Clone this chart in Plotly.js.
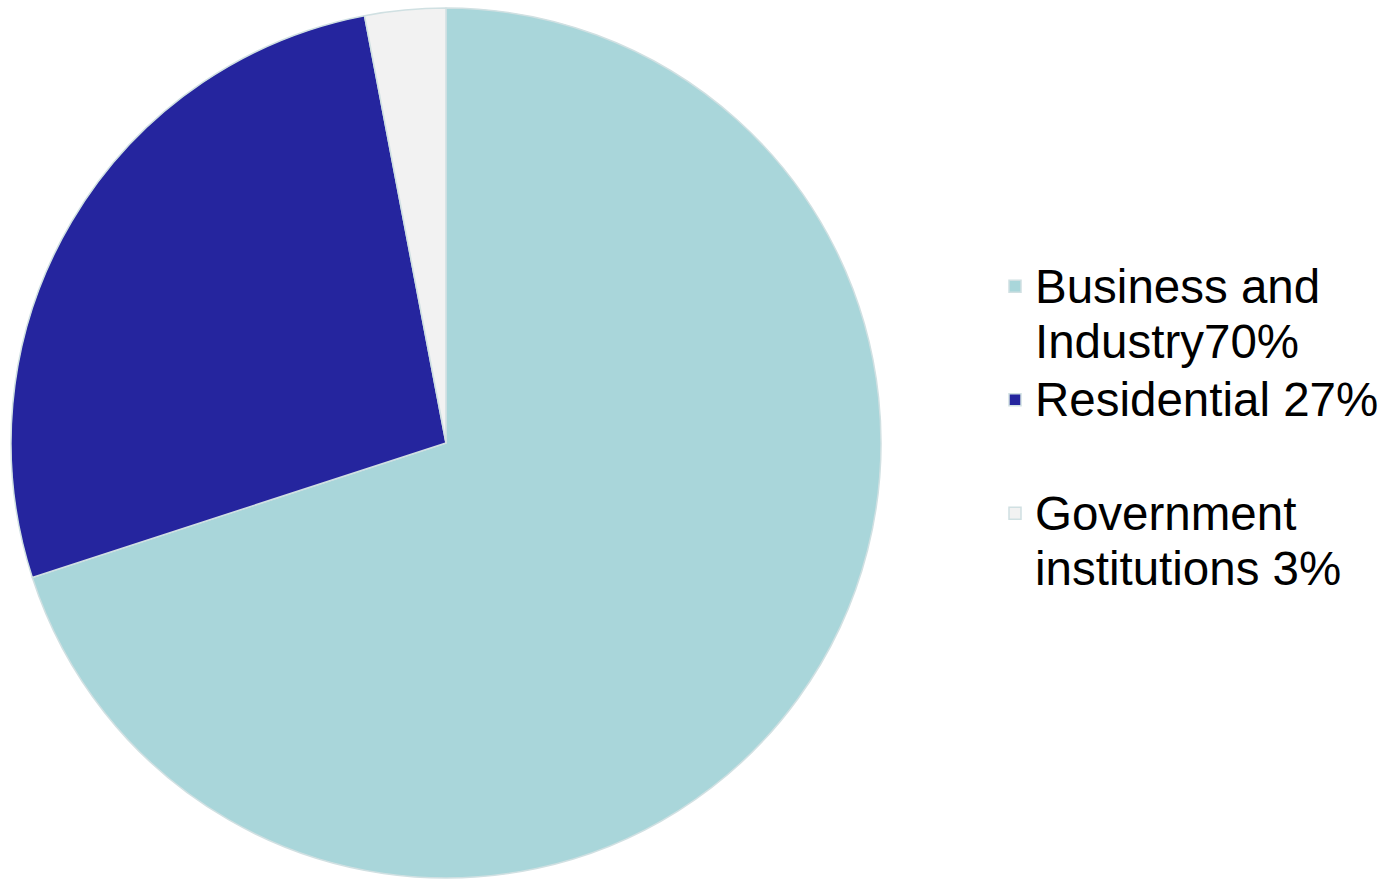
<!DOCTYPE html>
<html>
<head>
<meta charset="utf-8">
<script src="https://cdn.plot.ly/plotly-3.0.1.min.js"></script>
<style>html,body{margin:0;padding:0;background:#fff;}#chart{width:1387px;height:879px;}</style>
</head>
<body>
<div id="chart"></div>
<script>
const categoryLines = [["Business and", "Industry70%"], ["Residential 27%", " "], ["Government", "institutions 3%"]];
const values = [70, 27, 3];
const colors = ["#a9d6da", "#25259e", "#f2f2f2"];

const span = s => '<span style="font-size:47.5px">' + s + '</span>';
const categories = categoryLines.map(lines => lines.map(span).join("<br>"));

const trace = {
  type: "pie",
  labels: categories,
  values: values,
  sort: false,
  direction: "clockwise",
  rotation: 0,
  textinfo: "none",
  hoverinfo: "label+percent",
  marker: {colors: colors, line: {color: "#d0e0e2", width: 1.5}},
  domain: {x: [11/1387, 881/1387], y: [1/879, 871/879]}
};

const layout = {
  width: 1387, height: 879,
  margin: {l: 0, r: 0, t: 0, b: 0},
  paper_bgcolor: "#ffffff",
  showlegend: true,
  legend: {
    x: 995/1387, xanchor: "left",
    y: 1 - 252/879, yanchor: "top",
    valign: "top",
    font: {family: "Liberation Sans, Arial, sans-serif", size: 42.5, color: "#000000"},
    bgcolor: "rgba(0,0,0,0)",
    tracegroupgap: 0
  }
};

Plotly.newPlot("chart", [trace], layout, {displayModeBar: false, staticPlot: true});
</script>
</body>
</html>
